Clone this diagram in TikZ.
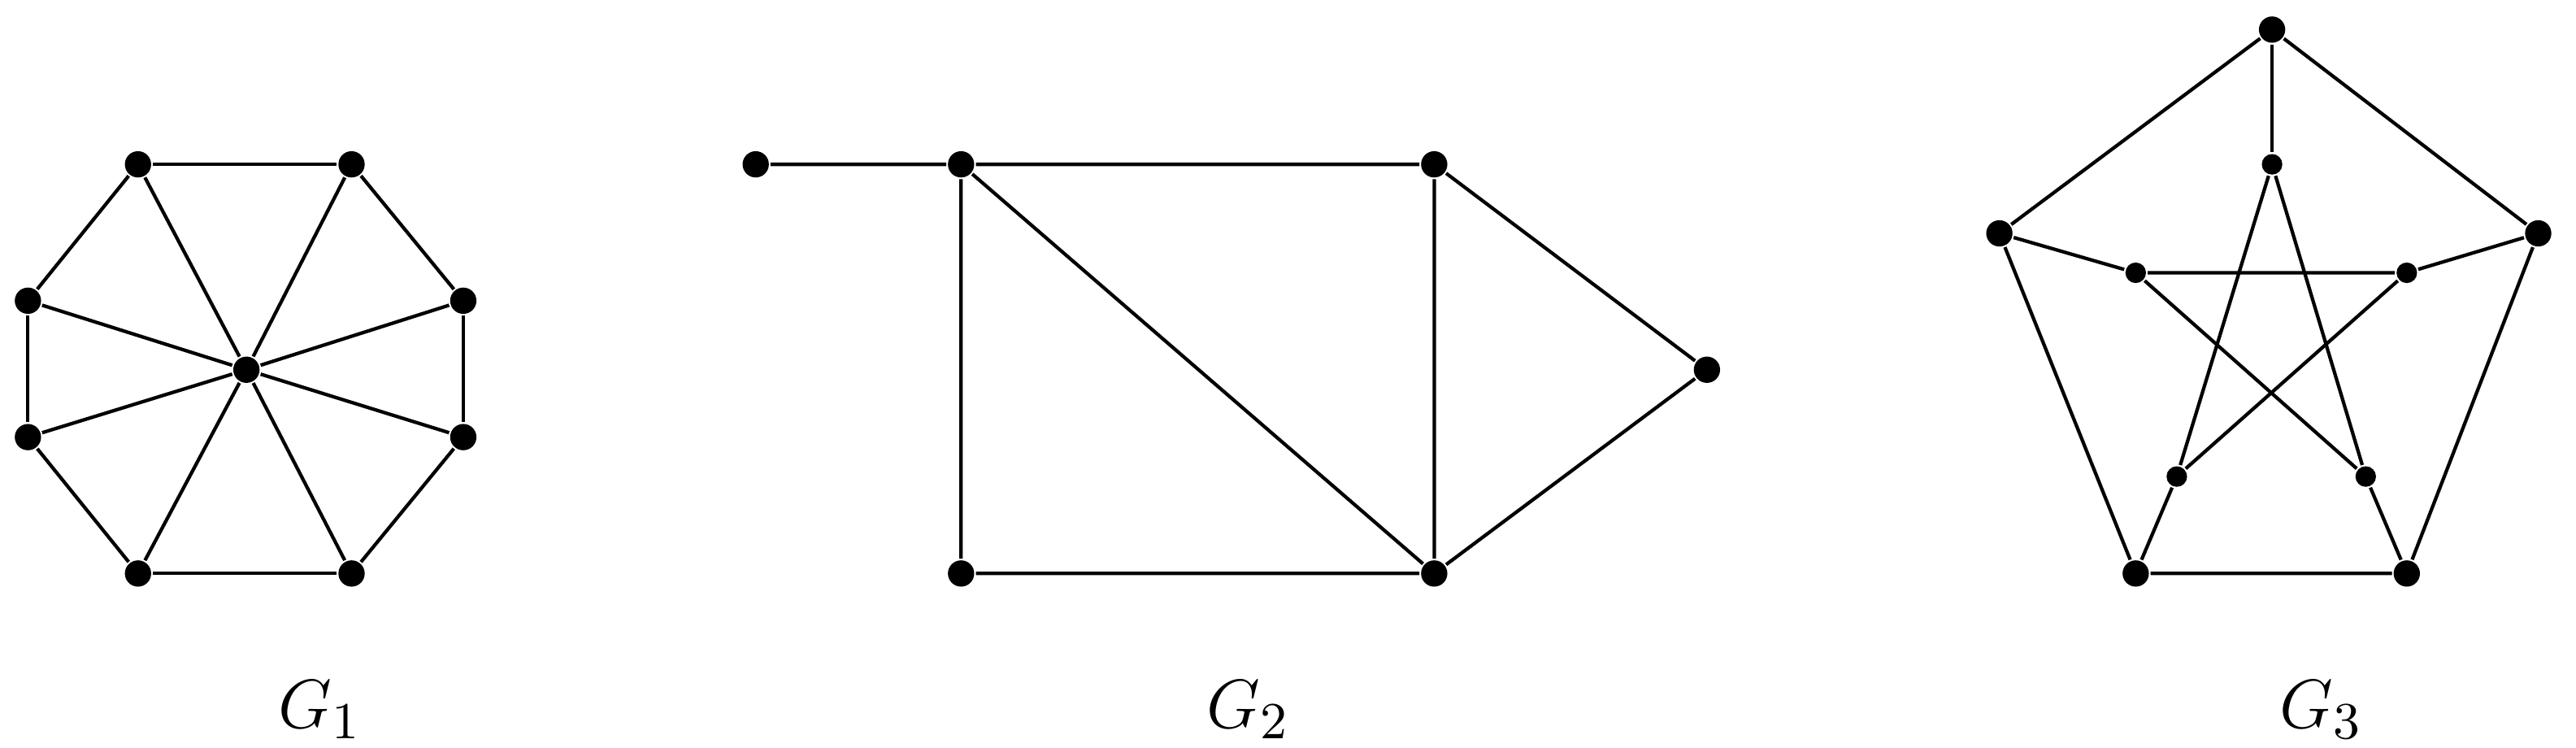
\documentclass[tikz,border=0pt]{standalone}
\begin{document}
\begin{tikzpicture}[x=0.1mm,y=-0.1mm,line width=0.6pt,
  v/.style={circle,fill=black,inner sep=0pt,minimum size=1.6mm},
  w/.style={circle,fill=black,inner sep=0pt,minimum size=1.25mm},
  lab/.style={font=\fontsize{13}{15}\selectfont}]
\useasboundingbox (0,0) rectangle (1568,455);
% G1
\node[v] (c) at (150,225) {};
\foreach \i/\x/\y in {1/84/100,2/214/100,3/282/183,4/282/266,5/214/349,6/84/349,7/17/266,8/17/183}
  \node[v] (a\i) at (\x,\y) {};
\foreach \i/\j in {1/2,2/3,3/4,4/5,5/6,6/7,7/8,8/1}
  \draw (a\i) -- (a\j);
\foreach \i in {1,...,8} \draw (c) -- (a\i);
\node[lab] (l1) at (195,432) {$G_1$};
% G2
\node[v] (b0) at (460,100) {};
\node[v] (b1) at (585,100) {};
\node[v] (b2) at (873,100) {};
\node[v] (b3) at (1039,225) {};
\node[v] (b4) at (873,349) {};
\node[v] (b5) at (585,349) {};
\draw (b0)--(b1) (b1)--(b2) (b1)--(b5) (b1)--(b4) (b2)--(b4) (b2)--(b3) (b3)--(b4) (b5)--(b4);
\node[lab] (l2) at (760,432) {$G_2$};
% G3
\node[v] (o1) at (1383,18) {};
\node[v] (o2) at (1545,142) {};
\node[v] (o3) at (1465,349) {};
\node[v] (o4) at (1300,349) {};
\node[v] (o5) at (1217,142) {};
\node[w] (i1) at (1383,100) {};
\node[w] (i2) at (1465,166) {};
\node[w] (i3) at (1440,290) {};
\node[w] (i4) at (1325,290) {};
\node[w] (i5) at (1300,166) {};
\draw (o1)--(o2) (o2)--(o3) (o3)--(o4) (o4)--(o5) (o5)--(o1);
\foreach \i in {1,...,5} \draw (o\i) -- (i\i);
\draw (i1)--(i3) (i3)--(i5) (i5)--(i2) (i2)--(i4) (i4)--(i1);
\node[lab] (l3) at (1413,432) {$G_3$};
\end{tikzpicture}
\end{document}
